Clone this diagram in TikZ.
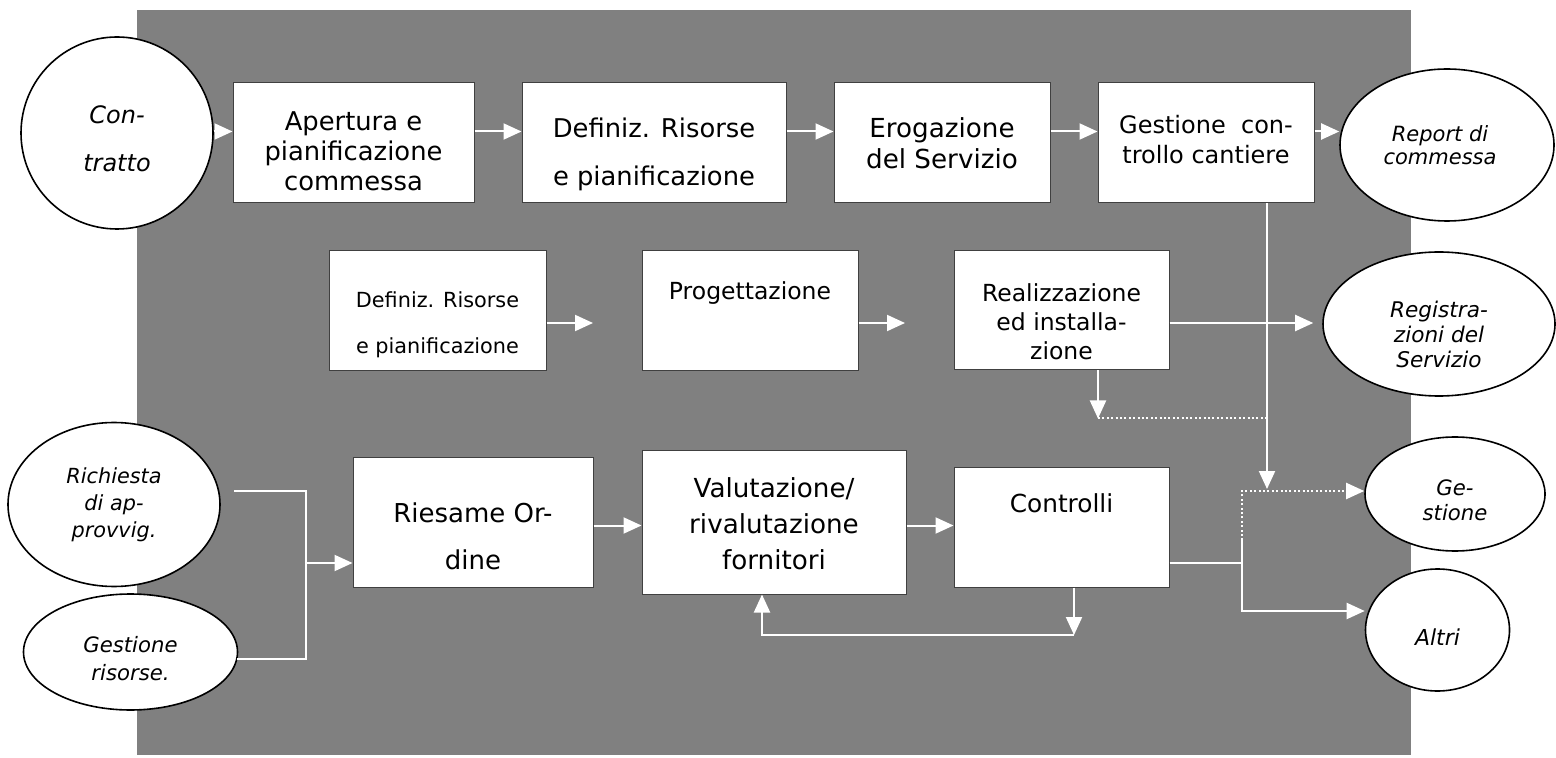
\documentclass[tikz,border=0pt]{standalone}
\usepackage{fontspec}
\setmainfont{DejaVu Sans}
\usetikzlibrary{arrows.meta,shapes.geometric}
\definecolor{bggray}{HTML}{808080}
\definecolor{boxline}{HTML}{404040}
\tikzset{
  box/.style={draw=boxline, line width=0.5pt, fill=white, rectangle, inner sep=0pt},
  oval/.style={draw=black, line width=0.8pt, fill=white, ellipse, inner sep=0pt},
  roundel/.style={draw=black, line width=0.8pt, fill=white, circle, inner sep=0pt},
  lbl/.style={align=center, inner sep=0pt},
  arr/.style={draw=white, line width=1pt, -{Triangle[length=9pt,width=8pt]}},
  wline/.style={draw=white, line width=1pt},
  dots/.style={draw=white, line width=1pt, dash pattern=on 1pt off 1.2pt},
}
\begin{document}
\begin{tikzpicture}[x=0.5pt,y=-0.5pt]
\useasboundingbox (0,0) rectangle (1556,758);
\fill[bggray] (137,10) rectangle (1411,755);

% top row
\node[roundel, minimum size=96pt,
  label={[lbl,yshift=-3pt,font=\fontsize{12}{24}\selectfont\itshape]center:{Con-\\tratto}}] (e1) at (117,133) {};
\node[box, minimum width=120.5pt, minimum height=60pt,
  label={[lbl,yshift=-4pt,font=\fontsize{12.9}{15}\selectfont]center:{Apertura e\\pianificazione\\commessa}}] (b1) at (353.5,143) {};
\node[box, minimum width=132pt, minimum height=60pt,
  label={[lbl,yshift=-5.5pt,font=\fontsize{12.9}{24}\selectfont]center:{Definiz. Risorse\\e pianificazione}}] (b2) at (654,143) {};
\node[box, minimum width=108pt, minimum height=60pt,
  label={[lbl,yshift=0pt,font=\fontsize{13.1}{15.5}\selectfont]center:{Erogazione\\del Servizio}}] (b3) at (942,143) {};
\node[box, minimum width=108pt, minimum height=60pt,
  label={[lbl,yshift=1.5pt,font=\fontsize{12}{15}\selectfont]center:{Gestione\ \ con-\\trollo cantiere}}] (b4) at (1206,143) {};
\node[oval, minimum width=107pt, minimum height=76pt,
  label={[lbl,xshift=-3.5pt,yshift=0pt,font=\fontsize{10.5}{11.5}\selectfont\itshape]center:{Report di\\commessa}}] (e2) at (1447,145) {};

% middle row
\node[box, minimum width=108.5pt, minimum height=60pt,
  label={[lbl,yshift=-7pt,font=\fontsize{10.4}{23}\selectfont]center:{Definiz. Risorse\\e pianificazione}}] (b5) at (437.5,311) {};
\node[box, minimum width=108pt, minimum height=60pt,
  label={[lbl,yshift=9pt,font=\fontsize{11.75}{14}\selectfont]center:{Progettazione}}] (b6) at (750,311) {};
\node[box, minimum width=107.5pt, minimum height=59.5pt,
  label={[lbl,yshift=-5.5pt,font=\fontsize{11.75}{14.5}\selectfont]center:{Realizzazione\\ed installa-\\zione}}] (b7) at (1061.5,310.5) {};
\node[oval, minimum width=116pt, minimum height=72pt,
  label={[lbl,yshift=-5pt,font=\fontsize{10.8}{12.5}\selectfont\itshape]center:{Registra-\\zioni del\\Servizio}}] (e3) at (1439,324) {};

% bottom row
\node[oval, minimum width=106pt, minimum height=82pt,
  label={[lbl,yshift=0pt,font=\fontsize{10.4}{13.5}\selectfont\itshape]center:{Richiesta\\di ap-\\provvig.}}] (e6) at (114,504.5) {};
\node[oval, minimum width=107pt, minimum height=58pt,
  label={[lbl,yshift=-3.5pt,font=\fontsize{10.6}{14}\selectfont\itshape]center:{Gestione\\risorse.}}] (e7) at (130.5,652) {};
\node[box, minimum width=120pt, minimum height=64.5pt,
  label={[lbl,yshift=-7pt,font=\fontsize{13}{23.5}\selectfont]center:{Riesame Or-\\dine}}] (b8) at (473,522.5) {};
\node[box, minimum width=132pt, minimum height=71.5pt,
  label={[lbl,yshift=-0.75pt,font=\fontsize{13.1}{18}\selectfont]center:{Valutazione/\\rivalutazione\\fornitori}}] (b9) at (774,522.5) {};
\node[box, minimum width=107.5pt, minimum height=60pt,
  label={[lbl,yshift=12pt,font=\fontsize{12.4}{15}\selectfont]center:{Controlli}}] (b10) at (1061.5,527) {};
\node[oval, minimum width=90pt, minimum height=57pt,
  label={[lbl,yshift=-3pt,font=\fontsize{10.6}{12.5}\selectfont\itshape]center:{Ge-\\stione}}] (e4) at (1455,494) {};
\node[oval, minimum width=72pt, minimum height=61pt,
  label={[lbl,yshift=-3.5pt,font=\fontsize{11}{13}\selectfont\itshape]center:{Altri}}] (e5) at (1437.5,630) {};

% helper coordinates
\coordinate (yA) at (0,131.5);
\coordinate (f1) at (593,323);
\coordinate (f2) at (905,323);
\coordinate (j1) at (1267,489);
\coordinate (j2) at (1098,418.5);
\coordinate (j3) at (1242,491);
\coordinate (j4) at (1242,536);
\coordinate (j5) at (1242,562.5);
\coordinate (j6) at (1242,538);
\coordinate (j7) at (1242,611);
\coordinate (j8) at (1074,635);
\coordinate (j9) at (762,635);
\coordinate (m1) at (306,491);
\coordinate (m2) at (306,659);
\coordinate (m3) at (306,563);
\coordinate (s1) at (234,491);
\coordinate (s2) at (237,659);
\coordinate (yB) at (0,525.5);

% top row connectors
\draw[arr] (e1.east |- yA) -- (b1.west |- yA);
\draw[arr] (b1.east |- yA) -- (b2.west |- yA);
\draw[arr] (b2.east |- yA) -- (b3.west |- yA);
\draw[arr] (b3.east |- yA) -- (b4.west |- yA);
\draw[arr] (b4.east |- yA) -- (e2.west |- yA);

% middle row connectors
\draw[arr] (b5.east |- f1) -- (f1);
\draw[arr] (b6.east |- f2) -- (f2);
\draw[arr, shorten >=4.5pt] (b7.east |- f2) -- (e3.west |- f2);
\draw[arr] (b4.south -| j1) -- (j1);
\draw[arr] (b7.south -| j2) -- (j2);
\draw[dots] (j2) -- (j2 -| j1);

% right outputs
\draw[dots, -{Triangle[length=9pt,width=8pt]}] (j4) -- (j3) -- (e4.west |- j3);
\draw[wline] (b10.east |- j5) -- (j5);
\draw[arr] (j6) -- (j7) -- (e5.west |- j7);

% feedback loop
\draw[arr] (b10.south -| j8) -- (j8);
\draw[arr] (j8) -- (j9) -- (b9.south -| j9);

% bottom left inputs
\draw[wline] (s1) -- (m1) -- (m2) -- (s2);
\draw[arr] (m3) -- (b8.west |- m3);
\draw[arr] (b8.east |- yB) -- (b9.west |- yB);
\draw[arr] (b9.east |- yB) -- (b10.west |- yB);
\end{tikzpicture}
\end{document}
